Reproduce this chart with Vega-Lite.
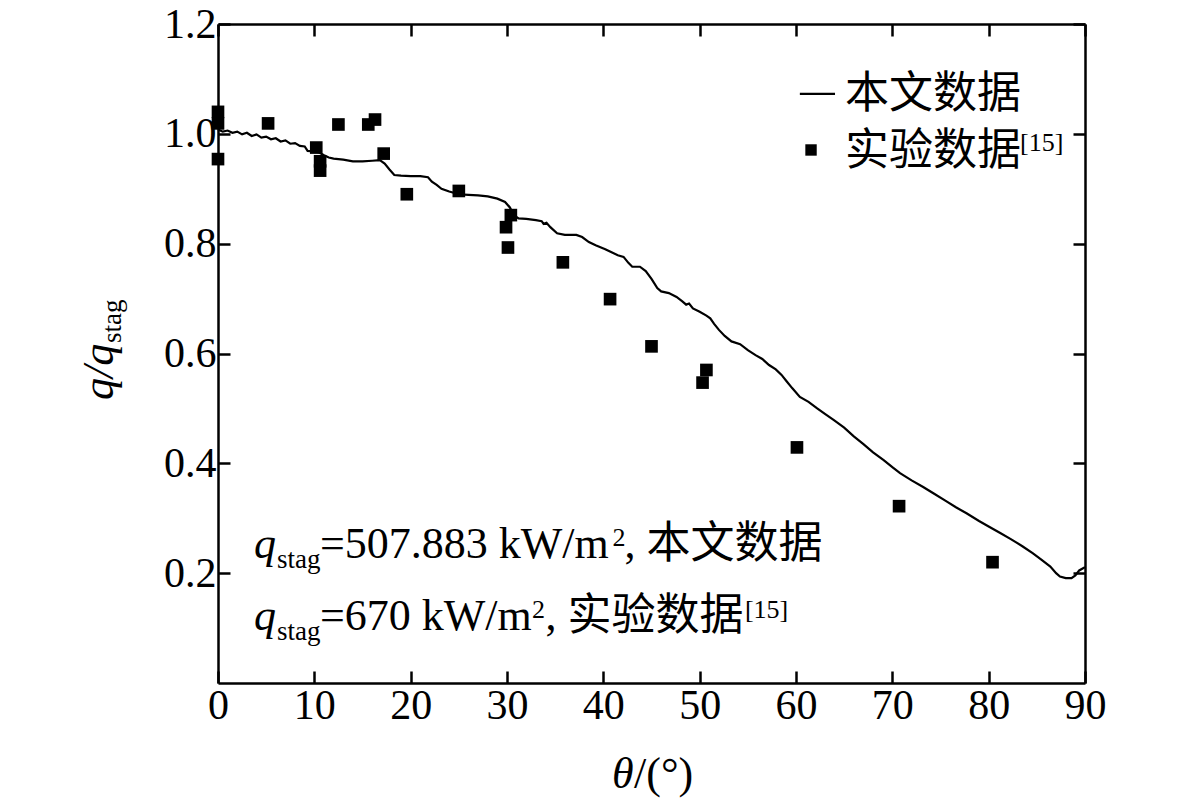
{
  "$schema": "https://vega.github.io/schema/vega-lite/v6.json",
  "width": 867,
  "height": 659,
  "autosize": {"type": "none"},
  "padding": {"left": 218, "top": 24, "right": 96, "bottom": 120},
  "background": "white",
  "config": {
    "view": {"stroke": null},
    "font": "Liberation Serif",
    "axis": {
      "grid": false,
      "title": null,
      "domainColor": "black",
      "domainWidth": 2.5,
      "tickColor": "black",
      "tickWidth": 2.5,
      "tickSize": -12,
      "labelFont": "Liberation Serif",
      "labelFontSize": 42,
      "labelColor": "black",
      "labelFlush": false,
      "labelOverlap": false
    },
    "text": {"font": "Liberation Serif, Noto Sans CJK SC", "color": "black", "align": "left", "baseline": "alphabetic"}
  },
  "datasets": {
    "model": [
      {"theta": 0, "q": 1.008}, {"theta": 0.5, "q": 1.004}, {"theta": 1, "q": 1.006}, {"theta": 1.5, "q": 1.002},
      {"theta": 2, "q": 1.004}, {"theta": 2.5, "q": 0.999}, {"theta": 3, "q": 1.002}, {"theta": 3.5, "q": 0.996},
      {"theta": 4, "q": 0.999}, {"theta": 4.5, "q": 0.993}, {"theta": 5, "q": 0.995}, {"theta": 5.5, "q": 0.99},
      {"theta": 6, "q": 0.992}, {"theta": 6.5, "q": 0.986}, {"theta": 7, "q": 0.988}, {"theta": 7.5, "q": 0.982},
      {"theta": 8, "q": 0.983}, {"theta": 8.5, "q": 0.978}, {"theta": 9, "q": 0.977}, {"theta": 9.3, "q": 0.969},
      {"theta": 10, "q": 0.968}, {"theta": 10.5, "q": 0.966}, {"theta": 11, "q": 0.961}, {"theta": 11.5, "q": 0.957},
      {"theta": 12, "q": 0.955}, {"theta": 13, "q": 0.953}, {"theta": 14, "q": 0.95}, {"theta": 15, "q": 0.95},
      {"theta": 16, "q": 0.951}, {"theta": 16.8, "q": 0.952}, {"theta": 17.3, "q": 0.946}, {"theta": 17.8, "q": 0.935},
      {"theta": 18.3, "q": 0.925}, {"theta": 19, "q": 0.924}, {"theta": 20, "q": 0.923}, {"theta": 21, "q": 0.923},
      {"theta": 21.8, "q": 0.921}, {"theta": 22.2, "q": 0.913}, {"theta": 22.7, "q": 0.907}, {"theta": 23.2, "q": 0.9},
      {"theta": 24, "q": 0.895}, {"theta": 25, "q": 0.89}, {"theta": 26, "q": 0.889}, {"theta": 27, "q": 0.888},
      {"theta": 28, "q": 0.886}, {"theta": 29, "q": 0.882}, {"theta": 29.8, "q": 0.876}, {"theta": 30.3, "q": 0.866},
      {"theta": 30.7, "q": 0.852}, {"theta": 31.2, "q": 0.846}, {"theta": 32, "q": 0.845}, {"theta": 33, "q": 0.843},
      {"theta": 33.6, "q": 0.841}, {"theta": 33.8, "q": 0.836}, {"theta": 34.1, "q": 0.838}, {"theta": 34.5, "q": 0.83},
      {"theta": 35.2, "q": 0.819}, {"theta": 36, "q": 0.816}, {"theta": 37.2, "q": 0.816}, {"theta": 37.8, "q": 0.812},
      {"theta": 38.5, "q": 0.803}, {"theta": 39.2, "q": 0.797}, {"theta": 40.2, "q": 0.79}, {"theta": 40.8, "q": 0.785},
      {"theta": 41.5, "q": 0.779}, {"theta": 42.1, "q": 0.776}, {"theta": 42.6, "q": 0.765}, {"theta": 43.0, "q": 0.758},
      {"theta": 43.8, "q": 0.758}, {"theta": 44.4, "q": 0.75}, {"theta": 45.0, "q": 0.736}, {"theta": 45.6, "q": 0.719},
      {"theta": 46.0, "q": 0.713}, {"theta": 46.8, "q": 0.71}, {"theta": 47.6, "q": 0.703}, {"theta": 48.2, "q": 0.695},
      {"theta": 48.6, "q": 0.689}, {"theta": 48.9, "q": 0.691}, {"theta": 49.3, "q": 0.682}, {"theta": 50.0, "q": 0.676},
      {"theta": 50.7, "q": 0.669}, {"theta": 51.1, "q": 0.664}, {"theta": 51.5, "q": 0.654}, {"theta": 52.0, "q": 0.643},
      {"theta": 52.6, "q": 0.632}, {"theta": 53.3, "q": 0.622}, {"theta": 54.2, "q": 0.617}, {"theta": 55.0, "q": 0.606},
      {"theta": 55.8, "q": 0.597}, {"theta": 56.5, "q": 0.59}, {"theta": 57.2, "q": 0.579}, {"theta": 57.9, "q": 0.571},
      {"theta": 58.5, "q": 0.561}, {"theta": 59.0, "q": 0.55}, {"theta": 59.6, "q": 0.537}, {"theta": 60.4, "q": 0.521},
      {"theta": 61.3, "q": 0.512}, {"theta": 62.2, "q": 0.5}, {"theta": 63.0, "q": 0.49}, {"theta": 63.9, "q": 0.479},
      {"theta": 65.0, "q": 0.465}, {"theta": 66.0, "q": 0.449}, {"theta": 67.0, "q": 0.435}, {"theta": 68.0, "q": 0.42},
      {"theta": 69.1, "q": 0.406}, {"theta": 70.0, "q": 0.393}, {"theta": 70.8, "q": 0.382}, {"theta": 72.0, "q": 0.369},
      {"theta": 73.2, "q": 0.357}, {"theta": 74.3, "q": 0.345}, {"theta": 75.5, "q": 0.332}, {"theta": 76.6, "q": 0.32},
      {"theta": 77.7, "q": 0.309}, {"theta": 79.0, "q": 0.295}, {"theta": 80.0, "q": 0.285}, {"theta": 81.2, "q": 0.273},
      {"theta": 82.3, "q": 0.262}, {"theta": 83.5, "q": 0.249}, {"theta": 84.6, "q": 0.236}, {"theta": 85.5, "q": 0.224},
      {"theta": 86.4, "q": 0.212}, {"theta": 87.0, "q": 0.2}, {"theta": 87.4, "q": 0.194}, {"theta": 88.0, "q": 0.191},
      {"theta": 88.6, "q": 0.191}, {"theta": 89.0, "q": 0.196}, {"theta": 89.4, "q": 0.205}, {"theta": 89.8, "q": 0.209},
      {"theta": 90, "q": 0.211}
    ],
    "experiment": [
      {"theta": 0, "q": 1.04}, {"theta": 0, "q": 1.019}, {"theta": 0, "q": 0.954}, {"theta": 5.2, "q": 1.019},
      {"theta": 10.2, "q": 0.975}, {"theta": 10.6, "q": 0.95}, {"theta": 10.6, "q": 0.933}, {"theta": 12.5, "q": 1.017},
      {"theta": 15.6, "q": 1.017}, {"theta": 16.3, "q": 1.026}, {"theta": 17.2, "q": 0.964}, {"theta": 19.6, "q": 0.89},
      {"theta": 25.0, "q": 0.896}, {"theta": 29.9, "q": 0.83}, {"theta": 30.1, "q": 0.793}, {"theta": 30.4, "q": 0.852},
      {"theta": 35.8, "q": 0.766}, {"theta": 40.7, "q": 0.699}, {"theta": 45.0, "q": 0.613}, {"theta": 50.3, "q": 0.547},
      {"theta": 50.7, "q": 0.57}, {"theta": 60.1, "q": 0.429}, {"theta": 70.7, "q": 0.322}, {"theta": 80.4, "q": 0.22}
    ],
    "italicText": [
      {"x": 3.74, "y": 0.2276, "t": "q"},
      {"x": 3.74, "y": 0.0965, "t": "q"},
      {"x": 40.9, "y": -0.191, "t": "θ"}
    ],
    "mainText": [
      {"x": 10.59, "y": 0.2276, "t": "=507.883 kW/m"},
      {"x": 42.2, "y": 0.2276, "t": ", 本文数据"},
      {"x": 10.59, "y": 0.0965, "t": "=670 kW/m"},
      {"x": 34.0, "y": 0.0965, "t": ", 实验数据"},
      {"x": 65.09, "y": 1.047, "t": "本文数据"},
      {"x": 65.09, "y": 0.943, "t": "实验数据"},
      {"x": 43.19, "y": -0.191, "t": "/(°)"}
    ],
    "subText": [
      {"x": 6.12, "y": 0.21, "t": "stag"},
      {"x": 6.12, "y": 0.0788, "t": "stag"}
    ],
    "supText": [
      {"x": 40.95, "y": 0.2495, "t": "2"},
      {"x": 32.6, "y": 0.1184, "t": "2"},
      {"x": 54.7, "y": 0.1184, "t": "[15]"},
      {"x": 83.26, "y": 0.969, "t": "[15]"}
    ],
    "yTitle": [{"x": -10.9, "y": 0.5153, "t": "q/q"}],
    "yTitleSub": [{"x": -10.07, "y": 0.619, "t": "stag"}],
    "legendLine": [{"x": 60.4, "x2": 64.05, "y": 1.0726}],
    "legendPoint": [{"x": 61.56, "y": 0.9706}]
  },
  "layer": [
    {
      "data": {"name": "model"},
      "mark": {"type": "line", "color": "black", "strokeWidth": 2.2},
      "encoding": {
        "x": {
          "field": "theta", "type": "quantitative",
          "scale": {"domain": [0, 90], "nice": false, "zero": false},
          "axis": {"orient": "bottom", "values": [0, 10, 20, 30, 40, 50, 60, 70, 80, 90], "labelPadding": 14}
        },
        "y": {
          "field": "q", "type": "quantitative",
          "scale": {"domain": [0, 1.2], "nice": false, "zero": false},
          "axis": {"orient": "left", "values": [0.2, 0.4, 0.6, 0.8, 1.0, 1.2], "format": ".1f", "labelPadding": 14}
        }
      }
    },
    {
      "data": {"name": "experiment"},
      "mark": {"type": "square", "color": "black", "opacity": 1, "size": 160},
      "encoding": {
        "x": {
          "field": "theta", "type": "quantitative",
          "scale": {"domain": [0, 90], "nice": false, "zero": false},
          "axis": {"orient": "top", "values": [0, 10, 20, 30, 40, 50, 60, 70, 80, 90], "labels": false}
        },
        "y": {
          "field": "q", "type": "quantitative",
          "scale": {"domain": [0, 1.2], "nice": false, "zero": false},
          "axis": {"orient": "right", "values": [0.2, 0.4, 0.6, 0.8, 1.0, 1.2], "labels": false}
        }
      }
    },
    {
      "data": {"name": "legendLine"},
      "mark": {"type": "rule", "color": "black", "strokeWidth": 2.2},
      "encoding": {
        "x": {"field": "x", "type": "quantitative", "axis": null},
        "x2": {"field": "x2"},
        "y": {"field": "y", "type": "quantitative", "axis": null}
      }
    },
    {
      "data": {"name": "legendPoint"},
      "mark": {"type": "square", "color": "black", "opacity": 1, "size": 130},
      "encoding": {
        "x": {"field": "x", "type": "quantitative", "axis": null},
        "y": {"field": "y", "type": "quantitative", "axis": null}
      }
    },
    {
      "data": {"name": "italicText"},
      "mark": {"type": "text", "fontSize": 44, "fontStyle": "italic"},
      "encoding": {
        "x": {"field": "x", "type": "quantitative", "axis": null},
        "y": {"field": "y", "type": "quantitative", "axis": null},
        "text": {"field": "t"}
      }
    },
    {
      "data": {"name": "mainText"},
      "mark": {"type": "text", "fontSize": 44},
      "encoding": {
        "x": {"field": "x", "type": "quantitative", "axis": null},
        "y": {"field": "y", "type": "quantitative", "axis": null},
        "text": {"field": "t"}
      }
    },
    {
      "data": {"name": "subText"},
      "mark": {"type": "text", "fontSize": 27},
      "encoding": {
        "x": {"field": "x", "type": "quantitative", "axis": null},
        "y": {"field": "y", "type": "quantitative", "axis": null},
        "text": {"field": "t"}
      }
    },
    {
      "data": {"name": "supText"},
      "mark": {"type": "text", "fontSize": 26},
      "encoding": {
        "x": {"field": "x", "type": "quantitative", "axis": null},
        "y": {"field": "y", "type": "quantitative", "axis": null},
        "text": {"field": "t"}
      }
    },
    {
      "data": {"name": "yTitle"},
      "mark": {"type": "text", "fontSize": 44, "fontStyle": "italic", "angle": 270},
      "encoding": {
        "x": {"field": "x", "type": "quantitative", "axis": null},
        "y": {"field": "y", "type": "quantitative", "axis": null},
        "text": {"field": "t"}
      }
    },
    {
      "data": {"name": "yTitleSub"},
      "mark": {"type": "text", "fontSize": 27, "angle": 270},
      "encoding": {
        "x": {"field": "x", "type": "quantitative", "axis": null},
        "y": {"field": "y", "type": "quantitative", "axis": null},
        "text": {"field": "t"}
      }
    }
  ],
  "resolve": {"axis": {"x": "independent", "y": "independent"}}
}
